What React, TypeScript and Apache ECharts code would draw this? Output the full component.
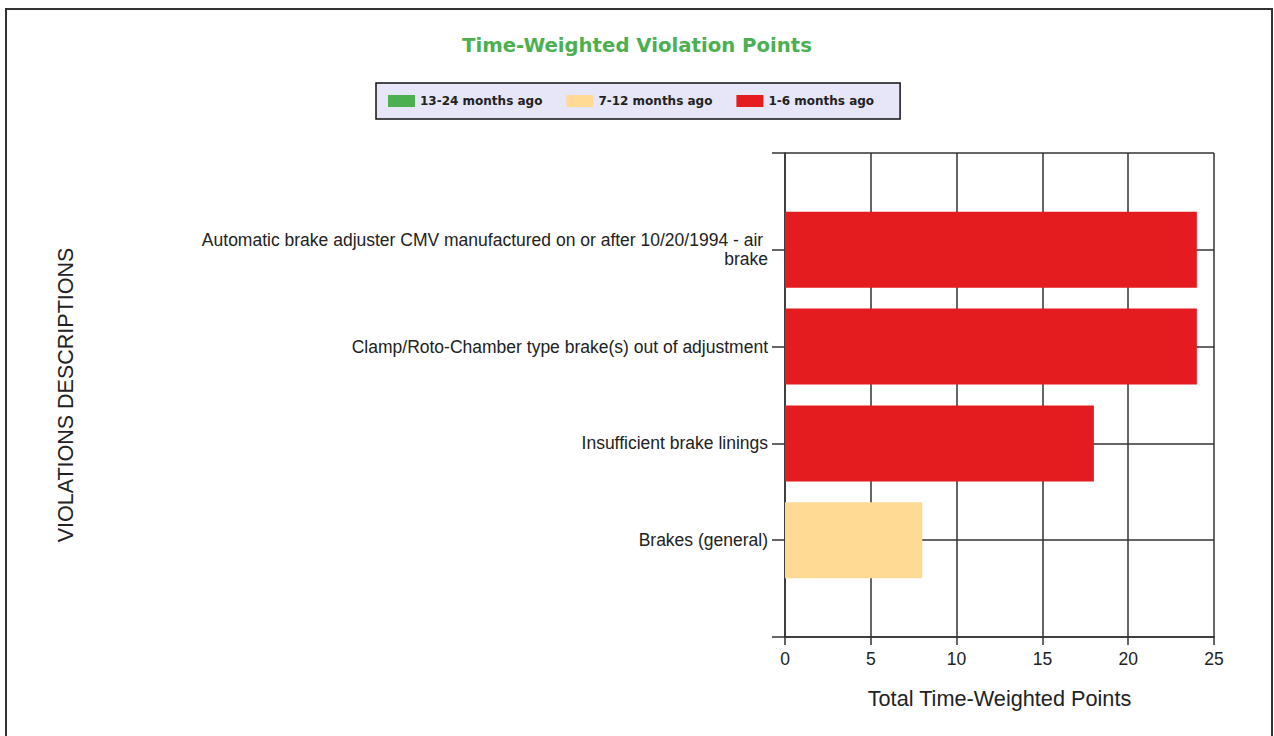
import React, { useEffect, useRef } from "react";
import * as echarts from "echarts";

const categories = [
  "",
  "Brakes (general)",
  "Insufficient brake linings",
  "Clamp/Roto-Chamber type brake(s) out of adjustment",
  "Automatic brake adjuster CMV manufactured on or after 10/20/1994 - air brake",
  "",
];
const seriesNames = ["13-24 months ago", "7-12 months ago", "1-6 months ago"];
const months13to24 = [null, 0, 0, 0, 0, null];
const months7to12 = [null, 8, 0, 0, 0, null];
const months1to6 = [null, 0, 18, 24, 24, null];
const seriesColors = ["#4CAF50", "#FFDA94", "#E41B1F"];
const xTicks = { min: 0, max: 25, interval: 5 };

export default function App() {
  const ref = useRef<HTMLDivElement>(null);
  useEffect(() => {
    if (!ref.current) return;
    const chart = echarts.init(ref.current, null, { renderer: "svg" });
    const lineColor = "#333";
    const font = "'Liberation Sans', Arial, sans-serif";
    const values = [months13to24, months7to12, months1to6];
    chart.setOption({
      animation: false,
      backgroundColor: "#fff",
      title: {
        text: "Time-Weighted Violation Points",
        left: "center",
        top: 35,
        padding: 0,
        textStyle: {
          fontFamily: "'DejaVu Sans', Verdana, sans-serif",
          fontWeight: "bold",
          fontSize: 19.7,
          color: "#4CAF50",
        },
      },
      legend: {
        data: seriesNames,
        left: 376,
        top: 83,
        orient: "horizontal",
        backgroundColor: "#E6E6F8",
        borderColor: "#111",
        borderWidth: 1.5,
        borderRadius: 0,
        padding: [12, 26, 12, 12],
        itemWidth: 27,
        itemHeight: 12,
        itemGap: 24,
        icon: "rect",
        textStyle: {
          fontFamily: "'DejaVu Sans', Verdana, sans-serif",
          fontWeight: "bold",
          fontSize: 12,
          color: "#222",
        },
      },
      grid: { left: 785, right: 60, top: 153, bottom: 99, containLabel: false },
      xAxis: {
        type: "value",
        min: xTicks.min,
        max: xTicks.max,
        interval: xTicks.interval,
        name: "Total Time-Weighted Points",
        nameLocation: "middle",
        nameGap: 50,
        nameTextStyle: { fontFamily: font, fontSize: 21.7, color: "#222" },
        axisLine: { show: true, lineStyle: { color: lineColor, width: 1.5 } },
        axisTick: { show: true, length: 8, lineStyle: { color: lineColor, width: 1.5 } },
        axisLabel: { fontFamily: font, fontSize: 17.5, color: "#222", margin: 13 },
        splitLine: { show: true, lineStyle: { color: lineColor, width: 1.5 } },
      },
      yAxis: {
        type: "category",
        data: categories,
        boundaryGap: false,
        name: "VIOLATIONS DESCRIPTIONS",
        nameLocation: "middle",
        nameGap: 708,
        nameTextStyle: { fontFamily: font, fontSize: 21.5, color: "#222" },
        axisLine: { show: true, lineStyle: { color: lineColor, width: 1.5 } },
        axisTick: { show: true, length: 13, alignWithLabel: true, lineStyle: { color: lineColor, width: 1.5 } },
        axisLabel: {
          fontFamily: font,
          fontSize: 17.5,
          color: "#222",
          margin: 17,
          width: 605,
          overflow: "break",
          lineHeight: 19,
          align: "right",
          interval: 0,
        },
        splitLine: { show: true, interval: 0, lineStyle: { color: lineColor, width: 1.5 } },
      },
      graphic: [
        {
          type: "rect",
          shape: { x: 6, y: 9, width: 1266, height: 740 },
          style: { fill: "none", stroke: "#333", lineWidth: 2 },
          silent: true,
        },
      ],
      series: seriesNames.map((name, i) => ({
        name,
        type: "bar",
        stack: "total",
        barWidth: 76,
        data: values[i],
        itemStyle: { color: seriesColors[i] },
      })),
    });
    return () => chart.dispose();
  }, []);
  return (
    <div
      ref={ref}
      style={{ position: "fixed", left: 0, top: 0, width: 1274, height: 736 }}
    />
  );
}
